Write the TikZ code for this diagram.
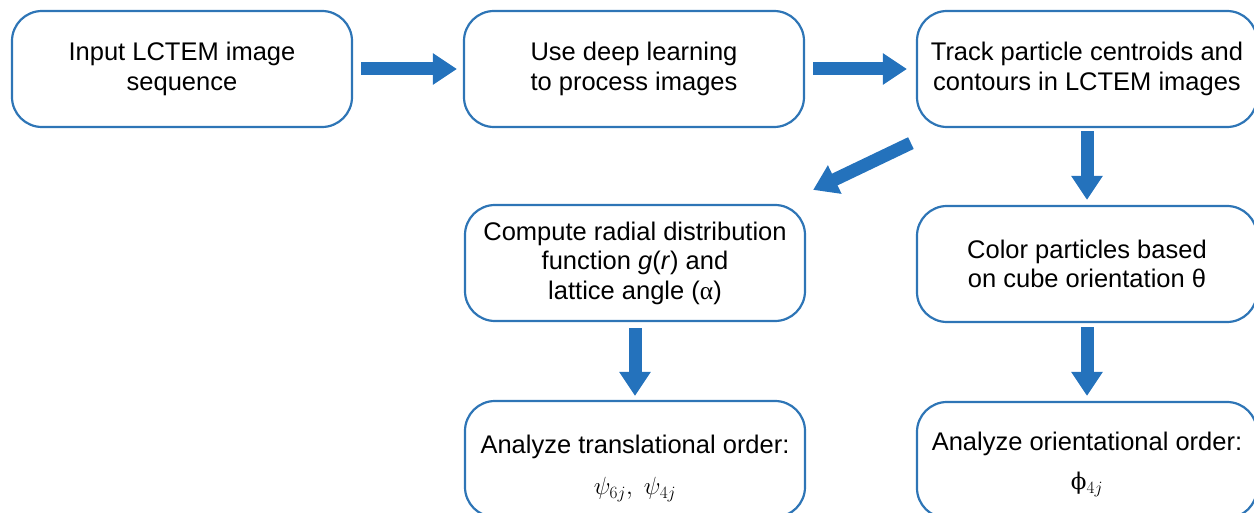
\documentclass[tikz,border=0pt]{standalone}
\usepackage{fontspec}
\setmainfont{Liberation Sans}
\newfontfamily\grkserif{Liberation Serif}
\newfontfamily\phifont{DejaVu Serif}
\usetikzlibrary{arrows.meta,calc}
\definecolor{boxblue}{RGB}{46,117,182}
\definecolor{arrowblue}{RGB}{36,114,188}
\tikzset{
  stepbox/.style={draw=boxblue, line width=2.2pt, rounded corners=30pt,
    minimum width=340pt, minimum height=116pt, align=center, inner sep=0pt,
    text=black, font=\fontsize{25.5}{29.5}\selectfont},
  flow/.style={draw=arrowblue, line width=13pt,
    -{Triangle[length=24pt,width=30pt]}}
}
\begin{document}
\begin{tikzpicture}[x=1pt,y=-1pt]
\useasboundingbox (0,0) rectangle (1254,513);

% process steps
\node[stepbox] (input)   at (182,69)   {Input LCTEM image\\sequence};
\node[stepbox] (deep)    at (634,69)   {Use deep learning\\to process images};
\node[stepbox] (track)   at (1087,69)  {Track particle centroids and\\contours in LCTEM images};
\node[stepbox] (radial)  at (635,263)  {Compute radial distribution\\function \textit{g}(\textit{r}) and\\lattice angle ({\grkserif α})};
\node[stepbox] (color)   at (1087,264) {Color particles based\\on cube orientation θ};
\node[stepbox] (trans)   at (635,459)  {\rule{0pt}{37pt}Analyze translational order:\\[12pt]$\psi_{6j},\;\psi_{4j}$};
\node[stepbox] (orient)  at (1087,460) {\rule{0pt}{27pt}Analyze orientational order:\\[10pt]{\phifont\fontsize{23}{25}\selectfont ϕ}$_{4j}$};

% flow arrows
\draw[flow, shorten <=8pt, shorten >=6pt] (input.east) -- (deep.west);
\draw[flow, shorten <=8pt, shorten >=9pt] (deep.east) -- (track.west);
\draw[flow, shorten <=3pt, shorten >=5pt] (track.south) -- (color.north);
\draw[flow] ($(track.south west)+(-5,15)$) -- ($(radial.north east)+(7,-14)$);
\draw[flow, shorten <=6pt, shorten >=4pt] (radial.south) -- (trans.north);
\draw[flow, shorten <=4pt, shorten >=5pt] (color.south) -- (orient.north);
\end{tikzpicture}
\end{document}
